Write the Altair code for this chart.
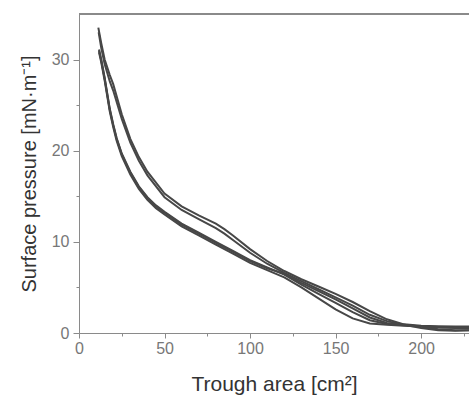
import altair as alt
import pandas as pd

# Surface pressure isotherms (compression / expansion cycles)
area_a = [11.3, 13, 15, 18, 20, 25, 30, 35, 40, 50, 60, 70, 80, 85, 90, 100, 110, 120, 130, 140, 150, 160, 170, 180, 190, 200, 210, 220, 228]
pres_a = [33.5, 31.8, 30.0, 28.3, 27.3, 24.0, 21.3, 19.3, 17.7, 15.3, 13.9, 12.9, 12.0, 11.4, 10.7, 9.2, 7.9, 6.8, 5.9, 5.1, 4.3, 3.4, 2.4, 1.5, 0.95, 0.8, 0.75, 0.7, 0.7]

area_b = [11.5, 13, 15, 18, 20, 25, 30, 35, 40, 50, 60, 70, 80, 85, 90, 100, 110, 120, 130, 140, 150, 160, 170, 180, 190, 200, 210, 220, 228]
pres_b = [33.0, 31.3, 29.5, 27.6, 26.6, 23.5, 20.9, 18.9, 17.3, 14.9, 13.5, 12.5, 11.5, 10.9, 10.2, 8.8, 7.6, 6.6, 5.7, 4.8, 3.9, 3.0, 2.0, 1.3, 0.9, 0.55, 0.3, 0.25, 0.3]

area_low = [11.7, 13, 15, 18, 20, 22, 25, 30, 35, 40, 45, 50, 60, 70, 80, 90, 100, 110, 120, 130, 140, 150, 160, 170, 180, 190, 200, 210, 220, 228]
pres_c = [31.1, 30.0, 28.0, 24.6, 22.9, 21.4, 19.7, 17.7, 16.1, 14.9, 14.0, 13.3, 12.0, 11.0, 10.0, 9.0, 8.0, 7.2, 6.4, 5.3, 4.3, 3.3, 2.3, 1.4, 1.0, 0.85, 0.75, 0.65, 0.6, 0.6]
pres_d = [30.8, 29.7, 27.7, 24.3, 22.6, 21.1, 19.4, 17.4, 15.8, 14.6, 13.7, 13.0, 11.7, 10.7, 9.7, 8.7, 7.7, 6.9, 6.1, 5.0, 3.8, 2.6, 1.6, 1.05, 0.9, 0.8, 0.7, 0.6, 0.55, 0.55]
pres_e = [31.0, 29.9, 27.9, 24.5, 22.8, 21.3, 19.6, 17.6, 16.0, 14.8, 13.9, 13.2, 11.9, 10.9, 9.9, 8.9, 7.9, 7.1, 6.5, 5.5, 4.6, 3.7, 2.7, 1.7, 1.1, 0.9, 0.7, 0.4, 0.3, 0.3]

x_major = [0, 50, 100, 150, 200]
x_minor = [25, 75, 125, 175, 225]
y_major = [0, 10, 20, 30]
y_minor = [5, 15, 25]

rows = []
for name, xs, ys in [("A", area_a, pres_a), ("B", area_b, pres_b),
                     ("C", area_low, pres_c), ("D", area_low, pres_d),
                     ("E", area_low, pres_e)]:
    for i, (x, y) in enumerate(zip(xs, ys)):
        rows.append({"cycle": name, "order": i, "area": x, "pressure": y})
df = pd.DataFrame(rows)

W, H = 390, 319
AX = "#8a8a8a"
LAB = "#777777"
TIT = "#333333"
FONT = "Liberation Sans"

xscale = alt.Scale(domain=[0, 228], nice=False, zero=False)
yscale = alt.Scale(domain=[0, 35], nice=False)

lines = alt.Chart(df).mark_line(color="#474747", strokeWidth=2, clip=True).encode(
    x=alt.X("area:Q", scale=xscale, axis=alt.Axis(
        title="Trough area [cm²]", values=x_major, orient="bottom",
        domainColor=AX, tickColor=AX, tickSize=5, labelPadding=2, labelFlush=False,
        labelColor=LAB, labelFontSize=16, labelFont=FONT,
        titleColor=TIT, titleFontSize=21, titleFont=FONT, titleFontWeight="normal",
        titlePadding=17, grid=False)),
    y=alt.Y("pressure:Q", scale=yscale, axis=alt.Axis(
        title="Surface pressure [mN·m⁻¹]", values=y_major, orient="left",
        domainColor=AX, tickColor=AX, tickSize=6, labelPadding=4, labelFlush=False,
        labelColor=LAB, labelFontSize=16, labelFont=FONT,
        titleColor=TIT, titleFontSize=20, titleFont=FONT, titleFontWeight="normal",
        titlePadding=12, grid=False)),
    detail="cycle:N",
    order="order:Q",
)

minor = alt.Chart(df).mark_point(opacity=0).encode(
    x=alt.X("area:Q", scale=xscale, axis=alt.Axis(
        title=None, values=x_minor, orient="bottom", labels=False,
        domain=False, tickColor=AX, tickSize=3, grid=False)),
    y=alt.Y("pressure:Q", scale=yscale, axis=alt.Axis(
        title=None, values=y_minor, orient="left", labels=False,
        domain=False, tickColor=AX, tickSize=3, grid=False)),
)

top = alt.Chart(df).mark_rule(color=AX, strokeWidth=1.2).encode(
    x=alt.value(0), x2=alt.value(W), y=alt.value(0)
)

chart = alt.layer(lines, minor, top).resolve_axis(
    x="independent", y="independent"
).properties(
    width=W, height=H,
    autosize=alt.AutoSizeParams(type="none"),
    padding={"left": 79, "top": 14, "right": 0, "bottom": 65},
).configure_view(stroke=None).configure(background="white")

chart.save("out.html", embed_options={"renderer": "svg", "actions": False})
